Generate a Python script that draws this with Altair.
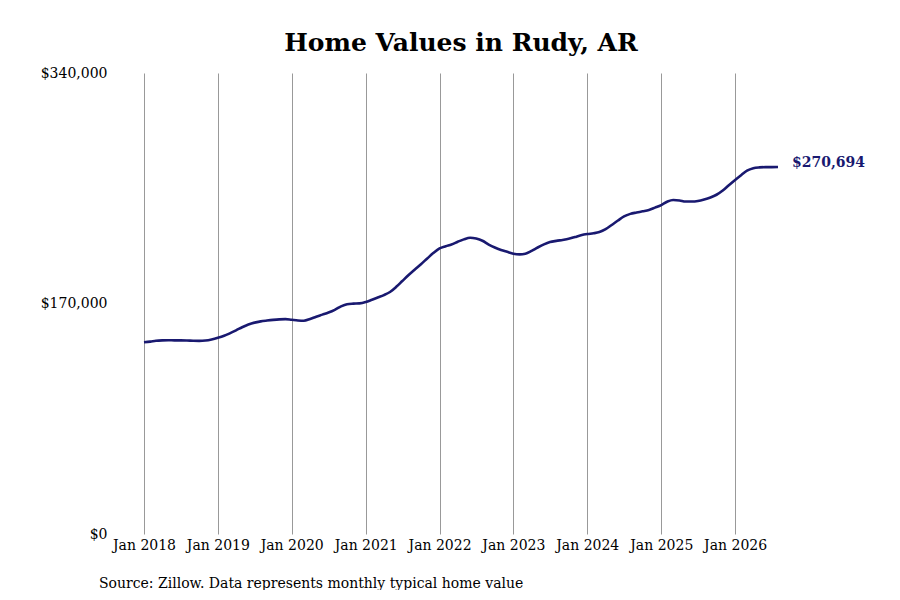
import altair as alt
import pandas as pd

years = [2018, 2019, 2020, 2021, 2022, 2023, 2024, 2025, 2026]
values_by_year = {
    2018: [141400, 141900, 142500, 142800, 142900, 142800, 142800, 142700, 142500, 142400, 142700, 143500],
    2019: [144700, 146200, 148000, 150200, 152500, 154500, 155900, 156800, 157400, 157900, 158300, 158500],
    2020: [158000, 157500, 157300, 158600, 160300, 161800, 163300, 165300, 167900, 169500, 169900, 170100],
    2021: [171100, 172800, 174400, 176200, 178500, 182300, 186600, 191000, 195100, 199000, 203200, 207200],
    2022: [210700, 212300, 213500, 215500, 217300, 218500, 217900, 216300, 213500, 211300, 209500, 208100],
    2023: [206700, 206200, 206700, 208800, 211300, 213600, 215300, 216200, 216900, 217700, 219000, 220300],
    2024: [221200, 221800, 222700, 224800, 227900, 231200, 234200, 236100, 237100, 238000, 239000, 240700],
    2025: [242600, 245200, 246300, 246000, 245200, 245200, 245600, 246700, 248200, 250200, 253300, 257200],
    2026: [261100, 264800, 268000, 269800, 270400, 270600, 270600, 270694],
}
title_text = "Home Values in Rudy, AR"
source_text = "Source: Zillow. Data represents monthly typical home value"
y_ticks = [0, 170000, 340000]

rows = []
for yr in years:
    for m, v in enumerate(values_by_year[yr], start=1):
        rows.append({"date": f"{yr}-{m:02d}-01T00:00:00", "value": v})
df = pd.DataFrame(rows)
last = df.tail(1).copy()
last["label"] = last["value"].map(lambda v: f"${v:,.0f}")

FONT = "DejaVu Serif"
NAVY = "#191970"

x_enc = alt.X(
    "date:T",
    title=None,
    scale=alt.Scale(domain=[rows[0]["date"], rows[-1]["date"]], nice=False),
    axis=alt.Axis(
        format="%b %Y",
        tickCount={"interval": "year", "step": 1},
        grid=True,
        gridColor="#999999",
        gridWidth=1,
        domain=False,
        ticks=False,
        labelOverlap=False,
        labelBound=False,
        labelFlush=False,
        labelPadding=4,
        labelFont=FONT,
        labelFontSize=14,
        labelColor="#000000",
    ),
)
y_enc = alt.Y(
    "value:Q",
    title=None,
    scale=alt.Scale(domain=[0, 340000], nice=False),
    axis=alt.Axis(
        values=y_ticks,
        format="$,.0f",
        grid=False,
        domain=False,
        ticks=False,
        labelPadding=37,
        labelFont=FONT,
        labelFontSize=14,
        labelColor="#000000",
    ),
)

line = alt.Chart(df).mark_line(color=NAVY, strokeWidth=2.6, interpolate="monotone").encode(
    x=x_enc, y=y_enc
)

end_label = alt.Chart(last).mark_text(
    align="left", baseline="middle", dx=14, dy=-4,
    font=FONT, fontSize=14, fontWeight="bold", color=NAVY,
).encode(x="date:T", y="value:Q", text="label:N")

source = alt.Chart(df.head(1)).mark_text(
    align="left", baseline="middle", font=FONT, fontSize=14, color="#000000", clip=False,
).encode(x=alt.value(-45), y=alt.value(511), text=alt.value(source_text))

chart = alt.layer(line, end_label, source).properties(
    width=634,
    height=461,
    title=alt.TitleParams(
        title_text, font=FONT, fontSize=25, fontWeight="bold", color="#000000",
        anchor="middle", offset=10,
    ),
    autosize=alt.AutoSizeParams(type="none"),
    padding={"left": 136, "top": 65, "right": 100, "bottom": 56},
).configure_view(stroke=None)

chart.save("out.html", embed_options={"renderer": "svg", "actions": False})
